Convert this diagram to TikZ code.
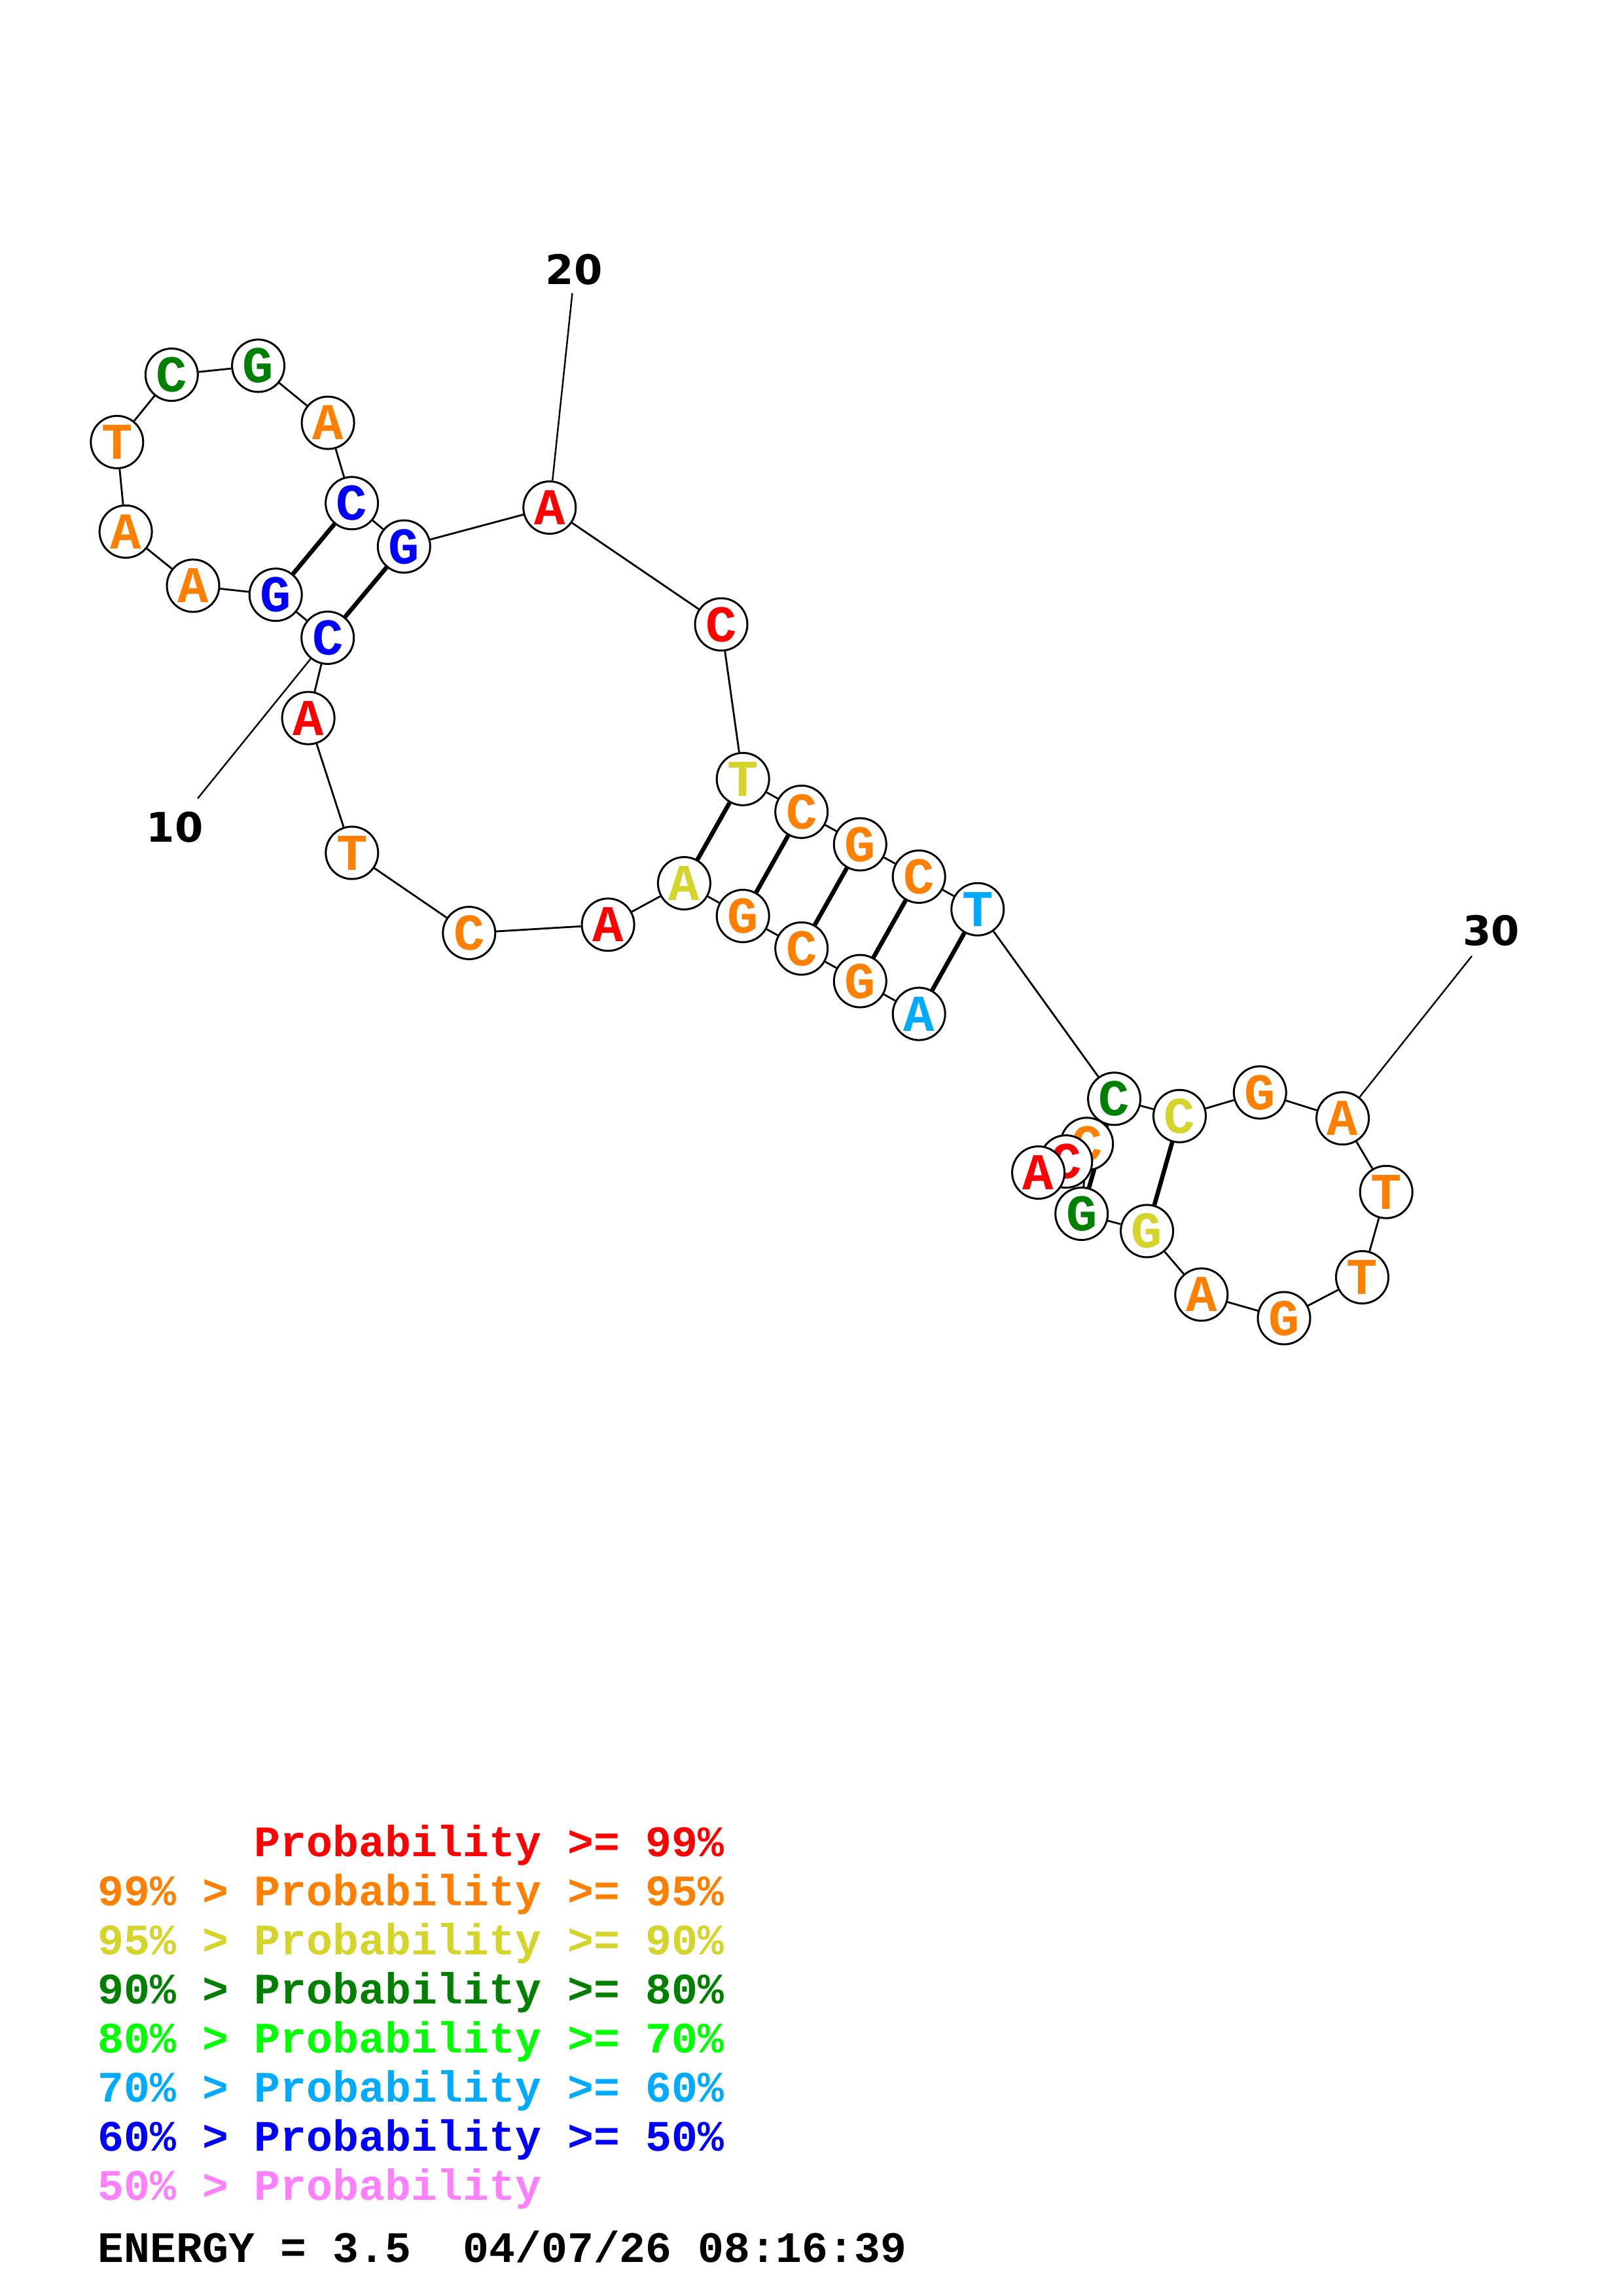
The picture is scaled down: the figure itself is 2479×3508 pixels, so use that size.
\documentclass[tikz,border=0pt]{standalone}
\usepackage{fontspec}
\setmonofont{Liberation Mono}
\newfontfamily\numfont{DejaVu Sans}
\usetikzlibrary{backgrounds}
\definecolor{pRed}{RGB}{255,0,0}
\definecolor{pOrange}{RGB}{255,128,0}
\definecolor{pYellow}{RGB}{212,212,42}
\definecolor{pDkGreen}{RGB}{0,128,0}
\definecolor{pGreen}{RGB}{0,255,0}
\definecolor{pLtBlue}{RGB}{0,170,255}
\definecolor{pBlue}{RGB}{0,0,255}
\definecolor{pPink}{RGB}{255,128,255}
\begin{document}
\begin{tikzpicture}[x=0.24bp,y=-0.24bp,
  nt/.style={circle, draw=black, fill=white, line width=0.72bp, minimum size=19.2bp, inner sep=0pt,
             font=\fontsize{19}{19}\selectfont\ttfamily\bfseries},
  bb/.style={line width=0.68bp},
  bpair/.style={line width=1.6bp},
  tick/.style={line width=0.58bp},
  lbl/.style={font=\fontsize{15}{15}\selectfont\numfont\bfseries, inner sep=0pt},
  lg/.style={anchor=base west, inner sep=0pt, font=\fontsize{16}{16}\selectfont\ttfamily\bfseries}]
\useasboundingbox (0,0) rectangle (2479,3508);

% nucleotides
\node[nt, text=pLtBlue]  (n1)  at (1404.2,1549.1) {A};
\node[nt, text=pOrange]  (n2)  at (1314.3,1499.0) {G};
\node[nt, text=pOrange]  (n3)  at (1224.7,1449.2) {C};
\node[nt, text=pOrange]  (n4)  at (1135.2,1399.5) {G};
\node[nt, text=pYellow]  (n5)  at (1045.4,1349.5) {A};
\node[nt, text=pRed]     (n6)  at (929.1,1412.8) {A};
\node[nt, text=pOrange]  (n7)  at (716.8,1425.5) {C};
\node[nt, text=pOrange]  (n8)  at (537.8,1303.0) {T};
\node[nt, text=pRed]     (n9)  at (471.1,1097.1) {A};
\node[nt, text=pBlue]    (n10) at (500.7,974.4) {C};
\node[nt, text=pBlue]    (n11) at (421.2,908.7) {G};
\node[nt, text=pOrange]  (n12) at (295.0,894.9) {A};
\node[nt, text=pOrange]  (n13) at (192.1,812.2) {A};
\node[nt, text=pOrange]  (n14) at (178.8,675.4) {T};
\node[nt, text=pDkGreen] (n15) at (262.3,572.5) {C};
\node[nt, text=pDkGreen] (n16) at (394.6,558.8) {G};
\node[nt, text=pOrange]  (n17) at (501.1,646.0) {A};
\node[nt, text=pBlue]    (n18) at (537.6,768.7) {C};
\node[nt, text=pBlue]    (n19) at (617.3,835.0) {G};
\node[nt, text=pRed]     (n20) at (839.8,775.5) {A};
\node[nt, text=pRed]     (n21) at (1102.0,954.0) {C};
\node[nt, text=pYellow]  (n22) at (1135.2,1190.3) {T};
\node[nt, text=pOrange]  (n23) at (1224.7,1240.3) {C};
\node[nt, text=pOrange]  (n24) at (1314.3,1290.0) {G};
\node[nt, text=pOrange]  (n25) at (1404.2,1339.4) {C};
\node[nt, text=pLtBlue]  (n26) at (1493.8,1389.2) {T};
\node[nt, text=pDkGreen] (n27) at (1702.6,1678.8) {C};
\node[nt, text=pYellow]  (n28) at (1802.5,1705.2) {C};
\node[nt, text=pOrange]  (n29) at (1925.3,1669.1) {G};
\node[nt, text=pOrange]  (n30) at (2051.6,1708.7) {A};
\node[nt, text=pOrange]  (n31) at (2118.2,1821.2) {T};
\node[nt, text=pOrange]  (n32) at (2081.5,1951.5) {T};
\node[nt, text=pOrange]  (n33) at (1962.0,2014.0) {G};
\node[nt, text=pOrange]  (n34) at (1835.8,1977.9) {A};
\node[nt, text=pYellow]  (n35) at (1752.6,1880.9) {G};
\node[nt, text=pDkGreen] (n36) at (1652.7,1854.5) {G};
\node[nt, text=pOrange]  (n37) at (1660.7,1747.7) {C};
\node[nt, text=pRed]     (n38) at (1628.8,1774.6) {C};
\node[nt, text=pRed]     (n39) at (1586.6,1791.5) {A};

% position labels
\node[lbl] (l10) at (267.3,1263.4) {10};
\node[lbl] (l20) at (877.0,411.7) {20};
\node[lbl] (l30) at (2278.9,1421.7) {30};
\coordinate (e10) at (302,1220);
\coordinate (e20) at (874.5,448);
\coordinate (e30) at (2249,1460.7);

\begin{scope}[on background layer]
  \draw[bb] (n1)--(n2)--(n3)--(n4)--(n5)--(n6)--(n7)--(n8)--(n9)--(n10)--(n11)--(n12)--(n13)
            --(n14)--(n15)--(n16)--(n17)--(n18)--(n19)--(n20)--(n21)--(n22)--(n23)--(n24)--(n25)
            --(n26)--(n27)--(n28)--(n29)--(n30)--(n31)--(n32)--(n33)--(n34)--(n35)--(n36)--(n37)
            --(n38)--(n39);
  \draw[bpair] (n1)--(n26);
  \draw[bpair] (n2)--(n25);
  \draw[bpair] (n3)--(n24);
  \draw[bpair] (n4)--(n23);
  \draw[bpair] (n5)--(n22);
  \draw[bpair] (n10)--(n19);
  \draw[bpair] (n11)--(n18);
  \draw[bpair] (n27)--(n36);
  \draw[bpair] (n28)--(n35);
  \draw[tick] (n10)--(e10);
  \draw[tick] (n20)--(e20);
  \draw[tick] (n30)--(e30);
\end{scope}

% legend
\node[lg, text=pRed]     (g1) at (149,2836) {\hphantom{99\%\ >\ }Probability >= 99\%};
\node[lg, text=pOrange]  (g2) at (149,2911) {99\% > Probability >= 95\%};
\node[lg, text=pYellow]  (g3) at (149,2986) {95\% > Probability >= 90\%};
\node[lg, text=pDkGreen] (g4) at (149,3061) {90\% > Probability >= 80\%};
\node[lg, text=pGreen]   (g5) at (149,3136) {80\% > Probability >= 70\%};
\node[lg, text=pLtBlue]  (g6) at (149,3211) {70\% > Probability >= 60\%};
\node[lg, text=pBlue]    (g7) at (149,3286) {60\% > Probability >= 50\%};
\node[lg, text=pPink]    (g8) at (149,3361) {50\% > Probability};
\node[lg, text=black]    (g9) at (149,3456) {ENERGY = 3.5\ \ 04/07/26 08:16:39};
\end{tikzpicture}
\end{document}
